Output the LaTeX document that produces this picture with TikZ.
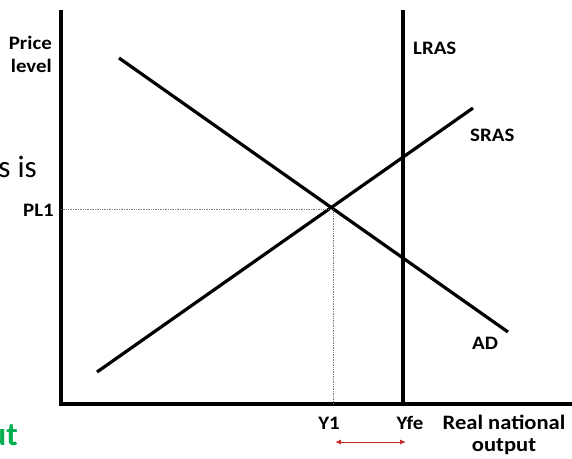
\documentclass[tikz,border=0pt]{standalone}
\usepackage{fontspec}
\setmainfont{Carlito}
\newfontfamily\lblfont[FakeStretch=1.1]{Carlito}
\usetikzlibrary{arrows.meta}
\definecolor{arrowred}{RGB}{200,40,40}
\definecolor{slidegreen}{RGB}{0,176,80}
\begin{document}
\begin{tikzpicture}[x=1pt,y=-1pt,
  lbl/.style={font=\lblfont\bfseries\fontsize{19}{23}\selectfont, inner sep=0pt},
  curve/.style={line width=3.2pt},
  guide/.style={densely dotted, gray, line width=0.7pt}]
\useasboundingbox (0,0) rectangle (572,458);
% axes
\coordinate (O) at (61,404);
\coordinate (ytop) at (61,12);
\coordinate (xend) at (572,404);
\draw[curve, line cap=rect] (ytop) -- (O) -- (xend);
% LRAS
\coordinate (lrasT) at (403,10);
\coordinate (lrasB) at (403,404);
\draw[curve] (lrasT) -- (lrasB);
% SRAS
\coordinate (srasA) at (97,372);
\coordinate (srasB) at (473,108);
\draw[curve] (srasA) -- (srasB);
% AD
\coordinate (adA) at (119,58);
\coordinate (adB) at (508,332);
\draw[curve] (adA) -- (adB);
% equilibrium
\coordinate (E) at (333,209);
\coordinate (Ey) at (61,209);
\coordinate (Ex) at (333,404);
\draw[guide] (Ey) -- (E) -- (Ex);
% labels
\node[lbl, anchor=east, align=right] (pl) at (52,54) {Price\\level};
\node[lbl, anchor=east] (pl1) at (54,210) {PL1};
\node[lbl, anchor=west] (lras) at (413,48) {LRAS};
\node[lbl, anchor=west] (sras) at (470,135) {SRAS};
\node[lbl, anchor=west] (ad) at (472,343) {AD};
\node[lbl] (y1) at (329,423) {Y1};
\node[lbl] (yfe) at (410,423) {Yfe};
\node[lbl, align=center, font=\lblfont\bfseries\fontsize{20.5}{22}\selectfont] (rno) at (504,435) {Real national\\output};
% red arrow
\coordinate (ra) at (335,442);
\coordinate (rb) at (406,442);
\draw[arrowred, line width=1pt, {Latex[length=6pt,width=5pt]}-{Latex[length=6pt,width=5pt]}] (ra) -- (rb);
% partial slide text
\node[anchor=base east, inner sep=0pt, font=\fontsize{31}{33}\selectfont] (sis) at (37,177) {s is};
\node[anchor=base east, inner sep=0pt, text=slidegreen, font=\bfseries\fontsize{33}{35}\selectfont] (ut) at (18,445) {ut};
\end{tikzpicture}
\end{document}
